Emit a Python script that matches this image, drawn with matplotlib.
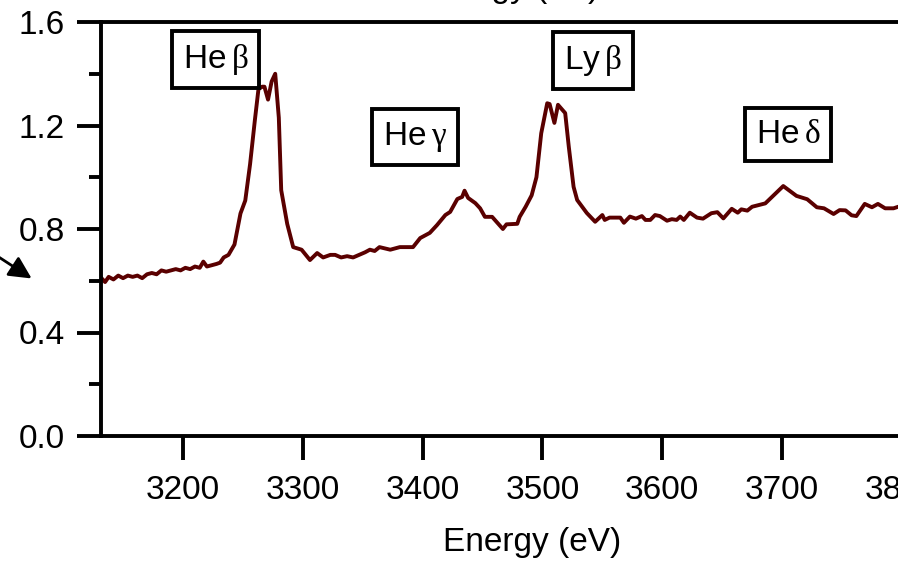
import numpy as np
import matplotlib
matplotlib.use("Agg")
import matplotlib.pyplot as plt

plt.rcParams['font.family'] = ['Liberation Sans', 'DejaVu Sans']
plt.rcParams['mathtext.fontset'] = 'custom'
plt.rcParams['mathtext.rm'] = 'Liberation Serif'

# spectrum
energy = [3132, 3135, 3138, 3142, 3146, 3150, 3154, 3158, 3162, 3166, 3170, 3174,
          3178, 3182, 3186, 3190, 3194, 3198, 3202, 3206, 3210, 3214, 3217, 3220,
          3224, 3228, 3231, 3234, 3238, 3243, 3248, 3252, 3256, 3260, 3263, 3266,
          3268, 3271, 3274, 3277, 3280, 3282, 3287, 3292, 3299, 3306, 3312, 3317,
          3323, 3327, 3332, 3337, 3342, 3347, 3352, 3356, 3360, 3364, 3373, 3381,
          3392, 3398, 3406, 3412, 3419, 3423, 3429, 3433, 3435, 3438, 3444, 3448,
          3452, 3458, 3467, 3470, 3479, 3481, 3486, 3491, 3495, 3499, 3504, 3506,
          3510, 3513, 3519, 3522, 3526, 3529, 3537, 3544, 3550, 3552, 3556, 3565,
          3568, 3573, 3578, 3583, 3586, 3590, 3594, 3598, 3604, 3608, 3612, 3615,
          3618, 3623, 3629, 3634, 3641, 3646, 3651, 3658, 3663, 3666, 3671, 3675,
          3686, 3701, 3712, 3721, 3729, 3735, 3743, 3748, 3753, 3758, 3762, 3769,
          3775, 3780, 3786, 3793, 3797, 3810, 3830]
intensity = [0.61, 0.595, 0.615, 0.605, 0.62, 0.61, 0.62, 0.615, 0.62, 0.61, 0.625, 0.63,
             0.625, 0.64, 0.635, 0.64, 0.645, 0.64, 0.65, 0.645, 0.655, 0.65, 0.674, 0.655,
             0.66, 0.665, 0.67, 0.69, 0.70, 0.74, 0.86, 0.91, 1.05, 1.22, 1.34, 1.35,
             1.35, 1.30, 1.37, 1.40, 1.23, 0.95, 0.82, 0.73, 0.72, 0.68, 0.707, 0.69,
             0.70, 0.70, 0.69, 0.695, 0.69, 0.70, 0.71, 0.72, 0.715, 0.73, 0.72, 0.73,
             0.73, 0.765, 0.785, 0.815, 0.854, 0.866, 0.916, 0.924, 0.948, 0.92, 0.90, 0.88,
             0.847, 0.847, 0.80, 0.818, 0.82, 0.847, 0.886, 0.93, 1.00, 1.17, 1.286, 1.283,
             1.21, 1.28, 1.248, 1.118, 0.963, 0.912, 0.862, 0.828, 0.854, 0.835, 0.844, 0.844,
             0.824, 0.848, 0.84, 0.85, 0.835, 0.835, 0.854, 0.85, 0.832, 0.838, 0.835, 0.848,
             0.835, 0.863, 0.844, 0.84, 0.861, 0.865, 0.841, 0.878, 0.863, 0.876, 0.871, 0.886,
             0.899, 0.966, 0.928, 0.915, 0.884, 0.88, 0.858, 0.873, 0.872, 0.853, 0.85, 0.897,
             0.884, 0.897, 0.88, 0.88, 0.886, 0.89, 0.88]

line_labels = [r"He$\,\mathrm{\beta}$", r"He$\,\mathrm{\gamma}$",
               r"Ly$\,\mathrm{\beta}$", r"He$\,\mathrm{\delta}$"]
label_x = [3227, 3394, 3542, 3705]
label_y = [1.455, 1.156, 1.453, 1.167]

fig = plt.figure(figsize=(8.98, 5.61), dpi=100)
ax = fig.add_axes([101 / 898, 125 / 561, 862 / 898, 414 / 561])

ax.plot(energy, intensity, color='#5a0000', lw=2.8)

for txt, x, y in zip(line_labels, label_x, label_y):
    ax.text(x, y, txt, fontsize=24, ha='center', va='center',
            bbox=dict(boxstyle='square,pad=0.33', fc='white', ec='black', lw=2.8))

ax.set_xlim(3131.6, 3851)
ax.set_ylim(0, 1.6)
ax.set_xticks([3200, 3300, 3400, 3500, 3600, 3700, 3800])
ax.set_yticks([0.0, 0.4, 0.8, 1.2, 1.6])
ax.set_yticks(np.arange(0.2, 1.6, 0.4), minor=True)
ax.yaxis.set_major_formatter(plt.FormatStrFormatter('%.1f'))

ax.spines['right'].set_visible(False)
for s in ['left', 'bottom', 'top']:
    ax.spines[s].set_linewidth(2.8)
ax.tick_params(axis='both', which='major', direction='out', length=17, width=2.8,
               labelsize=24, pad=9)
ax.tick_params(axis='y', which='minor', direction='out', length=9, width=2.8)
ax.tick_params(axis='x', which='major', pad=11)
ax.set_xlabel('Energy (eV)', fontsize=24, labelpad=15)

# bits of the neighbouring panel that stick into the frame
fig.text(510 / 898, 1 + 3 / 561, 'Energy (eV)', fontsize=24, ha='center', va='baseline')
ax.annotate('', xy=(34 / 898, 1 - 280 / 561), xycoords='figure fraction',
            xytext=(-0.01, 1 - 252 / 561), textcoords='figure fraction',
            arrowprops=dict(arrowstyle='-|>', color='black', lw=2, mutation_scale=34))

fig.savefig('out.png', dpi=100)
